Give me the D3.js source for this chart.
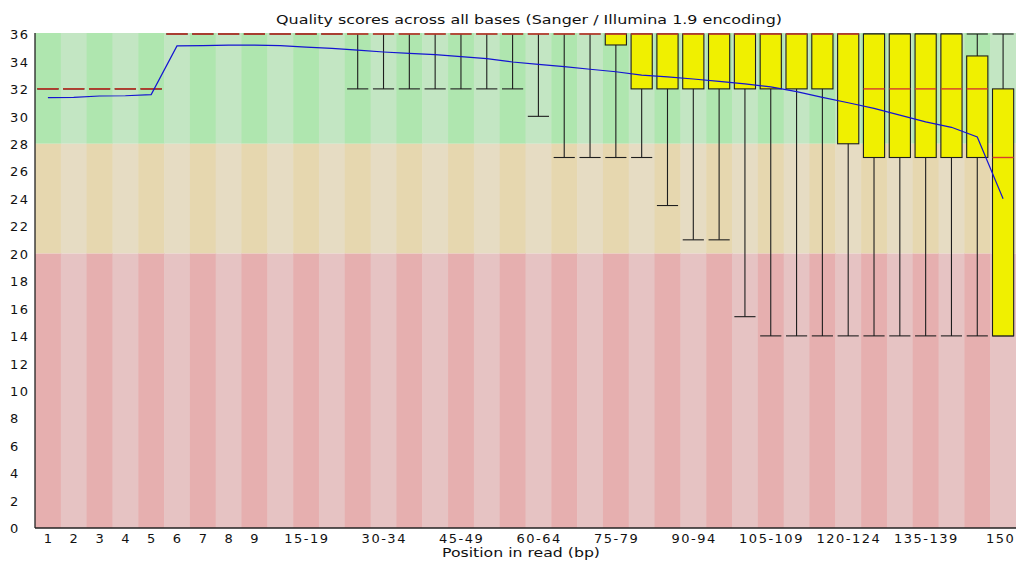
<!DOCTYPE html>
<html>
<head>
<meta charset="utf-8">
<script src="https://cdn.jsdelivr.net/npm/d3@7"></script>
<style>
  html, body { margin: 0; padding: 0; background: #fff; }
  svg { display: block; }
  text { font-family: "DejaVu Sans", sans-serif; fill: #111; }
</style>
</head>
<body>
<svg id="chart" width="1016" height="563"></svg>
<script>
// ---- data ----
const categories = ["1","2","3","4","5","6","7","8","9",
  "10-14","15-19","20-24","25-29","30-34","35-39","40-44","45-49","50-54","55-59",
  "60-64","65-69","70-74","75-79","80-84","85-89","90-94","95-99","100-104",
  "105-109","110-114","115-119","120-124","125-129","130-134","135-139","140-144","145-149","150"];
const shownLabels = ["1","2","3","4","5","6","7","8","9","15-19","30-34","45-49","60-64",
  "75-79","90-94","105-109","120-124","135-139","150"];
const medians = [32,32,32,32,32, 36,36,36,36,36,36,36, 36,36,36,36,36,36,36,
  36,36,36,36,36,36,36,36,36,36,36,36,36, 32,32,32,32,32, 27];
const lowerQuartile = [32,32,32,32,32, 36,36,36,36,36,36,36, 36,36,36,36,36,36,36,
  36,36,36,35.2,32,32,32,32,32,32,32,32,28, 27,27,27,27,27, 14];
const upperQuartile = [32,32,32,32,32, 36,36,36,36,36,36,36, 36,36,36,36,36,36,36,
  36,36,36,36,36,36,36,36,36,36,36,36,36, 36,36,36,36,34.4, 32];
const lowerWhisker = [32,32,32,32,32, 36,36,36,36,36,36,36, 32,32,32,32,32,32,32,
  30,27,27,27,27,23.5,21,21,15.4,14,14,14,14, 14,14,14,14,14, 14];
const upperWhisker = [32,32,32,32,32, 36,36,36,36,36,36,36, 36,36,36,36,36,36,36,
  36,36,36,36,36,36,36,36,36,36,36,36,36, 36,36,36,36,36, 36];
const means = [31.36,31.38,31.48,31.5,31.58, 35.13,35.15,35.19,35.19,35.15,35.05,34.95,
  34.83,34.69,34.59,34.49,34.35,34.2,33.96, 33.79,33.62,33.43,33.25,33.01,32.87,
  32.72,32.55,32.36,32.14,31.8,31.38,30.99, 30.58,30.09,29.6,29.2,28.5, 24.0];
const yTicks = [0,2,4,6,8,10,12,14,16,18,20,22,24,26,28,30,32,34,36];
const zones = [ {from:28, to:36, light:"rgb(195,230,195)", dark:"rgb(175,230,175)"},
                {from:20, to:28, light:"rgb(230,220,195)", dark:"rgb(230,215,175)"},
                {from:0,  to:20, light:"rgb(230,195,195)", dark:"rgb(230,175,175)"} ];
const titleText = "Quality scores across all bases (Sanger / Illumina 1.9 encoding)";
const xAxisTitle = "Position in read (bp)";

// ---- layout ----
const plotLeft = 35, plotRight = 1016, plotTop = 34, plotBottom = 528;
const svg = d3.select("#chart");
const x = d3.scaleBand().domain(categories).range([plotLeft, plotRight]).padding(0);
const y = d3.scaleLinear().domain([0, 36]).range([plotBottom, plotTop]);
const bw = x.bandwidth();
const boxW = bw * 0.82;
const cx = c => x(c) + bw / 2;

// background stripes
const bg = svg.append("g");
zones.forEach(z => {
  bg.selectAll(null).data(categories).join("rect")
    .attr("x", d => x(d)).attr("width", bw + 0.5)
    .attr("y", y(z.to) - (z.to === 36 ? 1 : 0))
    .attr("height", y(z.from) - y(z.to) + (z.to === 36 ? 1 : 0))
    .attr("fill", (d, i) => i % 2 === 0 ? z.dark : z.light);
});

const data = categories.map((c, i) => ({
  c, med: medians[i], q1: lowerQuartile[i], q3: upperQuartile[i],
  lw: lowerWhisker[i], uw: upperWhisker[i], mean: means[i]
}));

// whiskers
const wg = svg.append("g").attr("stroke", "#1e1e1e").attr("stroke-width", 1.1);
wg.selectAll(null).data(data).join("line")
  .attr("x1", d => cx(d.c)).attr("x2", d => cx(d.c))
  .attr("y1", d => y(d.lw)).attr("y2", d => y(d.uw));
wg.selectAll(null).data(data).join("line")
  .attr("x1", d => cx(d.c) - boxW/2).attr("x2", d => cx(d.c) + boxW/2)
  .attr("y1", d => y(d.lw)).attr("y2", d => y(d.lw));
wg.selectAll(null).data(data).join("line")
  .attr("x1", d => cx(d.c) - boxW/2).attr("x2", d => cx(d.c) + boxW/2)
  .attr("y1", d => y(d.uw)).attr("y2", d => y(d.uw));

// boxes
svg.append("g").selectAll("rect").data(data.filter(d => d.q3 > d.q1)).join("rect")
  .attr("x", d => cx(d.c) - boxW/2).attr("width", boxW)
  .attr("y", d => y(d.q3)).attr("height", d => y(d.q1) - y(d.q3))
  .attr("fill", "rgb(240,240,0)").attr("stroke", "#1e1e1e").attr("stroke-width", 1.1);

// medians
svg.append("g").selectAll("line").data(data).join("line")
  .attr("x1", d => cx(d.c) - boxW/2).attr("x2", d => cx(d.c) + boxW/2)
  .attr("y1", d => y(d.med)).attr("y2", d => y(d.med))
  .attr("stroke", "rgb(215,60,45)").attr("stroke-width", 1.4);

// mean line
svg.append("path").datum(data)
  .attr("fill", "none").attr("stroke", "rgb(20,20,210)").attr("stroke-width", 1.2)
  .attr("d", d3.line().x(d => cx(d.c)).y(d => y(d.mean)));

// axes lines
svg.append("line").attr("x1", plotLeft).attr("x2", plotLeft).attr("y1", plotTop - 1).attr("y2", plotBottom)
  .attr("stroke", "#222").attr("stroke-width", 1.3);
svg.append("line").attr("x1", plotLeft).attr("x2", plotRight).attr("y1", plotBottom).attr("y2", plotBottom)
  .attr("stroke", "#222").attr("stroke-width", 1.3);

// y tick labels (left aligned, as in the reference)
const yAxis = d3.axisLeft(y).tickValues(yTicks).tickSize(0).tickFormat(d3.format("d"));
const yg = svg.append("g").attr("transform", `translate(${plotLeft},0)`).call(yAxis);
yg.select(".domain").remove();
yg.selectAll("text").attr("x", 10 - plotLeft).attr("text-anchor", "start").attr("dy", "0.36em")
  .style("font-size", "13px").style("letter-spacing", "1.5px").style("font-family", "DejaVu Sans").attr("fill", "#111");

// x tick labels
const xAxis = d3.axisBottom(x).tickValues(shownLabels).tickSize(0);
const xg = svg.append("g").attr("transform", `translate(0,${plotBottom})`).call(xAxis);
xg.select(".domain").remove();
xg.selectAll("text").attr("y", 15).attr("dy", 0)
  .style("font-size", "13px").style("letter-spacing", "1.5px").style("font-family", "DejaVu Sans").attr("fill", "#111")
  .attr("dx", d => d === "150" ? "-2.5px" : "0.75px");

// titles
svg.append("text").attr("x", 529).attr("y", 24).attr("text-anchor", "middle")
  .attr("textLength", 506).attr("lengthAdjust", "spacingAndGlyphs")
  .style("font-size", "13px").text(titleText);
svg.append("text").attr("x", 521).attr("y", 557).attr("text-anchor", "middle")
  .attr("textLength", 158).attr("lengthAdjust", "spacingAndGlyphs")
  .style("font-size", "13px").text(xAxisTitle);
</script>
</body>
</html>
